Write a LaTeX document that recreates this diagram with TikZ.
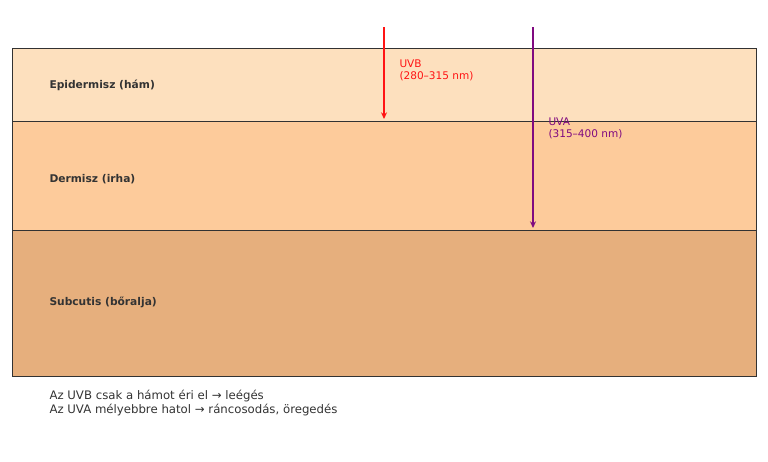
\documentclass[tikz,border=0pt]{standalone}
\usepackage{fontspec}
\setmainfont{DejaVu Sans}
\usetikzlibrary{arrows.meta}

\definecolor{epicolor}{RGB}{253,224,190}
\definecolor{dermcolor}{RGB}{253,203,155}
\definecolor{subcolor}{RGB}{230,175,125}
\definecolor{edgecolor}{RGB}{50,50,50}
\definecolor{labelcolor}{RGB}{51,51,51}
\definecolor{uvbcolor}{RGB}{255,20,20}
\definecolor{uvacolor}{RGB}{128,10,128}

\tikzset{every picture/.style={line width=0.75pt},
  layer/.style={draw=edgecolor, line width=0.6pt},
  layerlabel/.style={anchor=west, inner sep=0.75pt, text=labelcolor, font=\fontsize{8}{9.5}\selectfont\bfseries},
  raylabel/.style={anchor=north west, inner sep=0.75pt, align=left, font=\fontsize{7.9}{9}\selectfont},
  ray/.style={line width=1.4pt, -{Stealth[length=5pt,width=4.5pt]}}}

\begin{document}
\begin{tikzpicture}[x=0.75pt,y=0.75pt,yscale=-1,xscale=1]
\useasboundingbox (0,0) rectangle (768,461);

%Shape: Rectangle [epidermisz]
\draw [layer, fill=epicolor] (12,48) rectangle (756,121);
%Shape: Rectangle [dermisz]
\draw [layer, fill=dermcolor] (12,121) rectangle (756,230);
%Shape: Rectangle [subcutis]
\draw [layer, fill=subcolor] (12,230) rectangle (756,376);

% Layer labels
\node (epilabel) [layerlabel] at (48,85) {Epidermisz (hám)};
\node (dermlabel) [layerlabel] at (48,179.5) {Dermisz (irha)};
\node (sublabel) [layerlabel] at (48,302.5) {Subcutis (bőralja)};

% Rays
\coordinate (uvbstart) at (384,27);
\coordinate (uvbend) at (384,119);
\coordinate (uvastart) at (533,27);
\coordinate (uvaend) at (533,228);
\draw [ray, color=uvbcolor] (uvbstart) -- (uvbend);
\draw [ray, color=uvacolor] (uvastart) -- (uvaend);

% Text Node
\node (uvblabel) [raylabel, text=uvbcolor] at (398,58.5) {UVB\\(280–315 nm)};
% Text Node
\node (uvalabel) [raylabel, text=uvacolor] at (547,116.5) {UVA\\(315–400 nm)};

% Text Node
\node (note) [anchor=north west, inner sep=0.75pt, align=left, text=labelcolor, font=\fontsize{8.8}{10.5}\selectfont] at (48,389) {Az UVB csak a hámot éri el → leégés\\Az UVA mélyebbre hatol → ráncosodás, öregedés};

\end{tikzpicture}
\end{document}
